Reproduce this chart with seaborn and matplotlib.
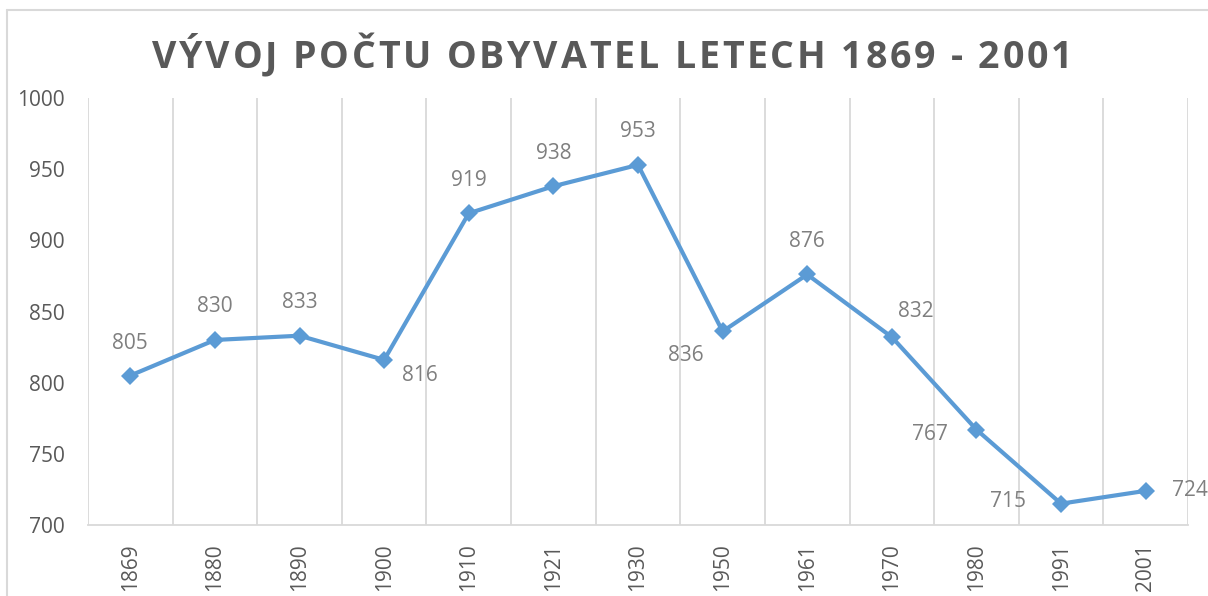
import matplotlib
matplotlib.use("Agg")
import matplotlib.pyplot as plt
import seaborn as sns
import pandas as pd
from matplotlib.lines import Line2D

years = ["1869", "1880", "1890", "1900", "1910", "1921", "1930",
         "1950", "1961", "1970", "1980", "1991", "2001"]
population = [805, 830, 833, 816, 919, 938, 953, 836, 876, 832, 767, 715, 724]
title_text = "VÝVOJ POČTU OBYVATEL LETECH 1869 - 2001"

# label offsets in pixels (dx, dy) relative to each point, like the Excel layout
label_offsets = [(0, 32), (0, 33), (0, 33), (36, -16), (0, 33), (0, 33), (0, 33),
                 (-37, -24), (0, 33), (24, 26), (-47, -5), (-53, 2), (44, 0)]

sns.set_theme(style="white")
plt.rcParams["font.family"] = ["Open Sans", "DejaVu Sans"]

line_color = "#5B9BD5"
text_gray = "#595959"
label_gray = "#7F7F7F"
grid_gray = "#D9D9D9"

df = pd.DataFrame({"year": years, "population": population})

fig = plt.figure(figsize=(12.08, 5.96), dpi=100)
ax = fig.add_axes([88 / 1208, 71 / 596, 1100 / 1208, 427 / 596])

sns.lineplot(data=df, x="year", y="population", ax=ax, color=line_color,
             linewidth=3, marker="D", markersize=9.5, markeredgewidth=0,
             sort=False)

ax.set_xlim(-0.5, len(years) - 0.5)
ax.set_ylim(700, 1000)
ax.set_yticks(range(700, 1001, 50))
ax.set_xticks(range(len(years)))
ax.set_xticklabels(years, rotation=90)
ax.set_xlabel("")
ax.set_ylabel("")

# category boundary gridlines
ax.set_xticks([i - 0.5 for i in range(len(years) + 1)], minor=True)
ax.grid(which="minor", axis="x", color=grid_gray, linewidth=1.3)
ax.grid(which="major", axis="both", visible=False)
ax.tick_params(which="both", length=0)
ax.tick_params(axis="y", pad=17, labelsize=15, labelcolor=text_gray)
ax.tick_params(axis="x", pad=13, labelsize=15, labelcolor=text_gray)

for side in ["left", "right", "top"]:
    ax.spines[side].set_visible(False)
ax.spines["bottom"].set_color(grid_gray)
ax.spines["bottom"].set_linewidth(1.3)

for i, (v, (dx, dy)) in enumerate(zip(population, label_offsets)):
    ax.annotate(str(v), (i, v), xytext=(dx, dy), textcoords="offset pixels",
                ha="center", va="center", fontsize=15, color=label_gray,
                annotation_clip=False)

# title with letter spacing: place characters one by one
renderer = fig.canvas.get_renderer()
tracking = 2.8  # extra pixels between characters
title_kw = dict(fontsize=27, fontweight="bold", color=text_gray, va="center", ha="left")
widths = []
for ch in title_text:
    if ch == " ":
        probe = fig.text(0, 0, "a a", **title_kw)
        w_full = probe.get_window_extent(renderer).width
        probe.remove()
        probe = fig.text(0, 0, "aa", **title_kw)
        w = w_full - probe.get_window_extent(renderer).width
        probe.remove()
    else:
        probe = fig.text(0, 0, ch, **title_kw)
        w = probe.get_window_extent(renderer).width
        probe.remove()
    widths.append(w)
total = sum(widths) + tracking * (len(title_text) - 1)
x = 612 - total / 2
for ch, w in zip(title_text, widths):
    if ch != " ":
        fig.text(x / 1208, 1 - 58 / 596, ch, **title_kw)
    x += w + tracking

# chart area border, cut by the screenshot on the right and bottom
fig.add_artist(Line2D([7 / 1208, 7 / 1208], [0, 1 - 10 / 596],
                      transform=fig.transFigure, color=grid_gray, linewidth=1.5))
fig.add_artist(Line2D([7 / 1208, 1], [1 - 10 / 596, 1 - 10 / 596],
                      transform=fig.transFigure, color=grid_gray, linewidth=1.5))

fig.savefig("out.png", dpi=100)
